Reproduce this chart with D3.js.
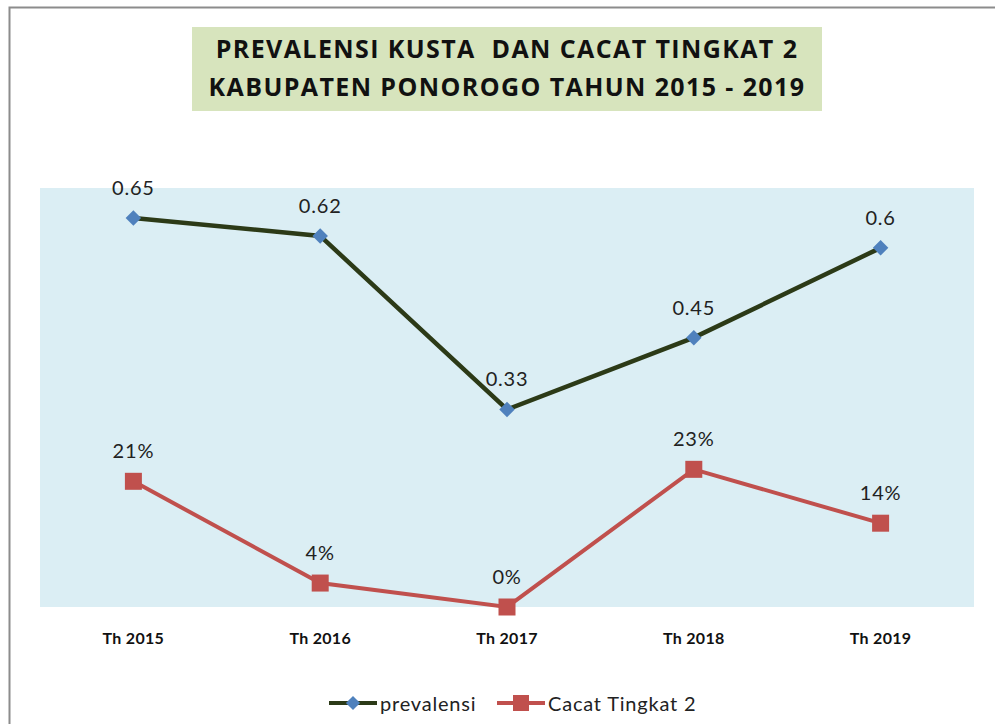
<!DOCTYPE html>
<html>
<head>
<meta charset="utf-8">
<script src="https://cdn.jsdelivr.net/npm/d3@7"></script>
<style>
  body { margin: 0; background: #fff; }
  text { font-family: Lato, "Open Sans", sans-serif; }
</style>
</head>
<body>
<svg id="chart" width="995" height="724"></svg>
<script>
// data
const years = ["Th 2015", "Th 2016", "Th 2017", "Th 2018", "Th 2019"];
const prevalensi = [0.65, 0.62, 0.33, 0.45, 0.6];
const cacat = [0.21, 0.04, 0, 0.23, 0.14];
const titleLines = ["PREVALENSI KUSTA  DAN CACAT TINGKAT 2", "KABUPATEN PONOROGO TAHUN 2015 - 2019"];

const svg = d3.select("#chart");

// bingkai
svg.append("path")
    .attr("d", "M9.5,724 L9.5,7.5 L995,7.5")
    .attr("fill", "none")
    .attr("stroke", "#8c8c8c")
    .attr("stroke-width", 2);

// judul
svg.append("rect")
    .attr("x", 192).attr("y", 27)
    .attr("width", 630).attr("height", 84)
    .attr("fill", "#d7e4bd");
svg.selectAll(".title")
    .data(titleLines)
    .enter()
    .append("text")
    .attr("class", "title")
    .attr("x", 507)
    .attr("y", (d, i) => 58 + i * 38)
    .attr("text-anchor", "middle")
    .style("font-family", "'Open Sans', sans-serif")
    .style("font-size", "25px")
    .style("font-weight", "bold")
    .style("letter-spacing", "1.4px")
    .style("white-space", "pre")
    .attr("fill", "#111")
    .text(d => d);

const margin = {left: 40, top: 188},
    width = 934,
    height = 419;

const g = svg.append("g")
    .attr("transform", "translate(" + margin.left + "," + margin.top + ")");

g.append("rect")
    .attr("width", width)
    .attr("height", height)
    .attr("fill", "#dbeef4");

const xScale = d3.scaleBand()
    .domain(years)
    .range([0, width]);
const yScale = d3.scaleLinear()
    .domain([0, 0.7])
    .range([height, 0]);

const xAxis = d3.axisBottom(xScale).tickSize(0).tickPadding(26);
const ax = g.append("g")
    .attr("transform", "translate(0," + height + ")")
    .call(xAxis);
ax.select(".domain").remove();
ax.selectAll("text")
    .style("font-size", "16px")
    .style("font-weight", "bold")
    .style("letter-spacing", "0.3px")
    .style("font-family", "Lato, sans-serif")
    .attr("fill", "#111");

const cx = (d, i) => xScale(years[i]) + xScale.bandwidth() / 2;

const line = d3.line()
    .x(cx)
    .y(d => yScale(d));

// garis
g.append("path")
    .datum(prevalensi)
    .attr("fill", "none")
    .attr("stroke", "#2c3a17")
    .attr("stroke-width", 4.5)
    .attr("d", line);

g.append("path")
    .datum(cacat)
    .attr("fill", "none")
    .attr("stroke", "#c0504d")
    .attr("stroke-width", 4)
    .attr("d", line);

const diamond = d3.symbol().type(d3.symbolSquare).size(120);

g.selectAll(".dia")
    .data(prevalensi)
    .enter()
    .append("path")
    .attr("d", diamond)
    .attr("transform", (d, i) => "translate(" + cx(d, i) + "," + yScale(d) + ") rotate(45)")
    .attr("fill", "#4f81bd");

const sq = 17;
g.selectAll(".sq")
    .data(cacat)
    .enter()
    .append("rect")
    .attr("x", (d, i) => cx(d, i) - sq / 2)
    .attr("y", d => yScale(d) - sq / 2)
    .attr("width", sq)
    .attr("height", sq)
    .attr("fill", "#c0504d");

// label nilai
function labels(data, fmt) {
    g.selectAll(null)
        .data(data)
        .enter()
        .append("text")
        .attr("x", cx)
        .attr("y", d => yScale(d) - 23)
        .attr("text-anchor", "middle")
        .style("font-size", "20px")
        .style("letter-spacing", "0.8px")
        .attr("fill", "#222")
        .text(fmt);
}
labels(prevalensi, d => d);
labels(cacat, d => Math.round(d * 100) + "%");

// legenda
const legend = [
    {name: "prevalensi", color: "#2c3a17", mark: "#4f81bd", type: "dia", x: 329},
    {name: "Cacat Tingkat 2", color: "#c0504d", mark: "#c0504d", type: "sq", x: 497}
];
const lg = svg.append("g").attr("transform", "translate(0,703)");
legend.forEach(l => {
    lg.append("line")
        .attr("x1", l.x).attr("x2", l.x + 48)
        .attr("stroke", l.color).attr("stroke-width", 4);
    if (l.type === "dia") {
        lg.append("path")
            .attr("d", d3.symbol().type(d3.symbolSquare).size(100))
            .attr("transform", "translate(" + (l.x + 24) + ",0) rotate(45)")
            .attr("fill", l.mark);
    } else {
        lg.append("rect")
            .attr("x", l.x + 24 - 8).attr("y", -8)
            .attr("width", 16).attr("height", 16)
            .attr("fill", l.mark);
    }
    lg.append("text")
        .attr("x", l.x + 51)
        .attr("y", 8)
        .style("font-size", "20px")
        .style("letter-spacing", "0.8px")
        .attr("fill", "#222")
        .text(l.name);
});
</script>
</body>
</html>
